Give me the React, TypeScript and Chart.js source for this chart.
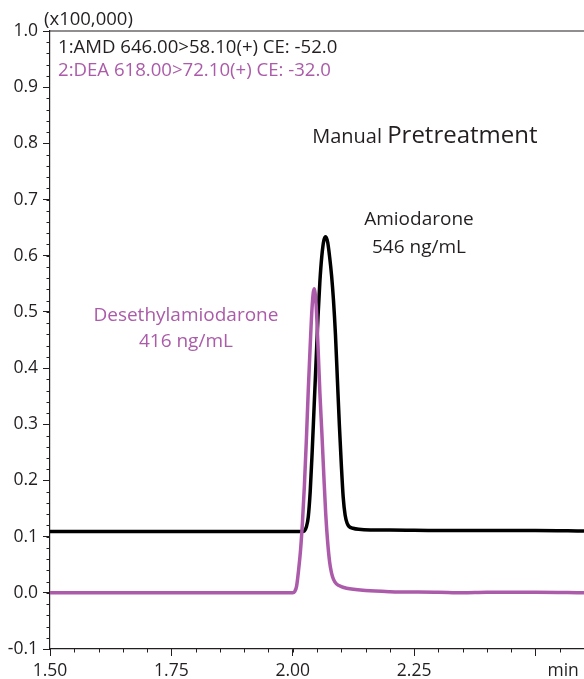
import React, { useEffect, useRef } from "react";
import { Chart, registerables } from "chart.js";

Chart.register(...registerables);

// ---- data (time in min, intensity in x100,000) ----
const amdTimes = [1.5, 1.8, 2.0, 2.02, 2.024, 2.028, 2.032, 2.036, 2.04, 2.044, 2.048, 2.052, 2.056, 2.06, 2.064, 2.068, 2.072, 2.076, 2.08, 2.084, 2.088, 2.092, 2.096, 2.1, 2.104, 2.108, 2.112, 2.116, 2.124, 2.136, 2.16, 2.2, 2.3, 2.4, 2.5, 2.6];
const amdValues = [0.109, 0.109, 0.109, 0.109, 0.11, 0.117, 0.135, 0.18, 0.25, 0.33, 0.41, 0.49, 0.555, 0.6, 0.627, 0.634, 0.624, 0.598, 0.565, 0.52, 0.46, 0.38, 0.3, 0.23, 0.17, 0.138, 0.124, 0.118, 0.115, 0.113, 0.112, 0.112, 0.111, 0.111, 0.111, 0.11];

const deaTimes = [1.5, 1.8, 1.95, 2.0, 2.004, 2.008, 2.012, 2.016, 2.02, 2.024, 2.028, 2.032, 2.036, 2.04, 2.044, 2.048, 2.052, 2.056, 2.06, 2.064, 2.068, 2.072, 2.076, 2.08, 2.084, 2.09, 2.1, 2.111, 2.15, 2.2, 2.3, 2.35, 2.4, 2.5, 2.6];
const deaValues = [0.0, 0.0, 0.0, 0.0, 0.002, 0.012, 0.04, 0.075, 0.125, 0.19, 0.27, 0.36, 0.44, 0.51, 0.541, 0.515, 0.44, 0.355, 0.285, 0.21, 0.14, 0.09, 0.055, 0.035, 0.024, 0.016, 0.011, 0.008, 0.004, 0.002, 0.001, 0.0, 0.001, 0.001, 0.0];

const xMajorTicks = [1.5, 1.75, 2.0, 2.25, 2.5];
const xTickLabels = ["1.50", "1.75", "2.00", "2.25", ""];
const yMajorTicks = [-0.1, 0.0, 0.1, 0.2, 0.3, 0.4, 0.5, 0.6, 0.7, 0.8, 0.9, 1.0];
const xMinorStep = 0.05;
const yMinorStep = 0.02;

const headerLines = ["1:AMD 646.00>58.10(+) CE: -52.0", "2:DEA 618.00>72.10(+) CE: -32.0"];
const amdLabel = ["Amiodarone", "546 ng/mL"];
const deaLabel = ["Desethylamiodarone", "416 ng/mL"];

const FONT = "'Open Sans', 'Noto Sans', sans-serif";
const INK = "#231f20";
const PURPLE = "#ab5ba9";

export default function App() {
  const ref = useRef<HTMLCanvasElement | null>(null);

  useEffect(() => {
    document.body.style.margin = "0";
    const canvas = ref.current;
    if (!canvas) return;

    const decor = {
      id: "decor",
      afterDraw(chart: any) {
        const { ctx, chartArea } = chart;
        const xs = chart.scales.x;
        const ys = chart.scales.y;
        ctx.save();
        ctx.strokeStyle = INK;
        ctx.lineWidth = 1.2;
        // top frame line
        ctx.beginPath();
        ctx.moveTo(chartArea.left, chartArea.top);
        ctx.lineTo(chartArea.right, chartArea.top);
        ctx.stroke();
        // minor ticks
        ctx.lineWidth = 1;
        ctx.beginPath();
        const nx = Math.round((xs.max - xs.min) / xMinorStep);
        for (let i = 0; i <= nx; i++) {
          const v = xs.min + i * xMinorStep;
          const px = Math.round(xs.getPixelForValue(v)) + 0.5;
          ctx.moveTo(px, chartArea.bottom);
          ctx.lineTo(px, chartArea.bottom + 3.5);
        }
        const ny = Math.round((ys.max - ys.min) / yMinorStep);
        for (let i = 0; i <= ny; i++) {
          const v = ys.min + i * yMinorStep;
          const py = Math.round(ys.getPixelForValue(v)) + 0.5;
          ctx.moveTo(chartArea.left, py);
          ctx.lineTo(chartArea.left - 3.5, py);
        }
        ctx.stroke();

        // texts
        ctx.textBaseline = "alphabetic";
        ctx.fillStyle = INK;
        ctx.textAlign = "left";
        ctx.font = `18.5px ${FONT}`;
        ctx.fillText("(x100,000)", chartArea.left - 6, chartArea.top - 6);

        ctx.font = `18.6px ${FONT}`;
        ctx.fillText(headerLines[0], chartArea.left + 8, chartArea.top + 22);
        ctx.fillStyle = PURPLE;
        ctx.fillText(headerLines[1], chartArea.left + 8, chartArea.top + 45);

        ctx.fillStyle = INK;
        ctx.font = `20px ${FONT}`;
        const mx = xs.getPixelForValue(2.04);
        const my = ys.getPixelForValue(0.8);
        ctx.fillText("Manual", mx, my);
        const mw = ctx.measureText("Manual ").width;
        ctx.font = `24px ${FONT}`;
        ctx.fillText("Pretreatment", mx + mw, my);

        ctx.textAlign = "center";
        ctx.font = `19px ${FONT}`;
        const ax = xs.getPixelForValue(2.26);
        const ay = ys.getPixelForValue(0.655);
        ctx.fillText(amdLabel[0], ax, ay);
        ctx.fillText(amdLabel[1], ax, ay + 28);

        ctx.fillStyle = PURPLE;
        const dx = xs.getPixelForValue(1.78);
        const dy = ys.getPixelForValue(0.483);
        ctx.fillText(deaLabel[0], dx, dy);
        ctx.fillText(deaLabel[1], dx, dy + 26);

        // axis unit
        ctx.fillStyle = INK;
        ctx.font = `17.5px ${FONT}`;
        ctx.textAlign = "left";
        ctx.fillText("min", xs.getPixelForValue(2.5) + 12, chartArea.bottom + 27);
        ctx.restore();
      },
    };

    const chart = new Chart(canvas, {
      type: "line",
      data: {
        datasets: [
          {
            label: "DEA",
            data: deaTimes.map((t, i) => ({ x: t, y: deaValues[i] })),
            borderColor: PURPLE,
            borderWidth: 3.5,
            pointRadius: 0,
            cubicInterpolationMode: "monotone",
            fill: false,
            order: 0,
          },
          {
            label: "AMD",
            data: amdTimes.map((t, i) => ({ x: t, y: amdValues[i] })),
            borderColor: "#000000",
            borderWidth: 3.5,
            pointRadius: 0,
            cubicInterpolationMode: "monotone",
            fill: false,
            order: 1,
          },
        ],
      },
      options: {
        animation: false,
        responsive: false,
        devicePixelRatio: 1,
        layout: { padding: { top: 31, right: 0, left: 0, bottom: 0 } },
        plugins: {
          legend: { display: false },
          tooltip: { enabled: false },
        },
        scales: {
          x: {
            type: "linear",
            min: 1.5,
            max: 2.6,
            afterBuildTicks: (scale: any) => {
              scale.ticks = xMajorTicks.map((v) => ({ value: v }));
            },
            afterFit: (scale: any) => {
              scale.height = 30;
            },
            ticks: {
              autoSkip: false,
              maxRotation: 0,
              padding: 5,
              color: INK,
              font: { family: FONT, size: 17.5 },
              callback: (v: any) => {
                const idx = xMajorTicks.findIndex((t) => Math.abs(t - Number(v)) < 1e-6);
                return idx >= 0 ? xTickLabels[idx] : "";
              },
            },
            grid: { drawOnChartArea: false, drawTicks: true, tickLength: 7, tickColor: INK, tickWidth: 1 },
            border: { display: true, color: INK, width: 1.2 },
          },
          y: {
            type: "linear",
            min: -0.1,
            max: 1.0,
            afterBuildTicks: (scale: any) => {
              scale.ticks = yMajorTicks.map((v) => ({ value: v }));
            },
            afterFit: (scale: any) => {
              scale.width = 50;
            },
            ticks: {
              autoSkip: false,
              padding: 5,
              color: INK,
              font: { family: FONT, size: 17.5 },
              callback: (v: any) => Number(v).toFixed(1),
            },
            grid: { drawOnChartArea: false, drawTicks: true, tickLength: 7, tickColor: INK, tickWidth: 1 },
            border: { display: true, color: INK, width: 1.2 },
          },
        },
      },
      plugins: [decor],
    });

    return () => chart.destroy();
  }, []);

  return (
    <div style={{ width: 584, height: 679, position: "relative" }}>
      <canvas ref={ref} width={584} height={679} style={{ display: "block", width: 584, height: 679 }} />
    </div>
  );
}
